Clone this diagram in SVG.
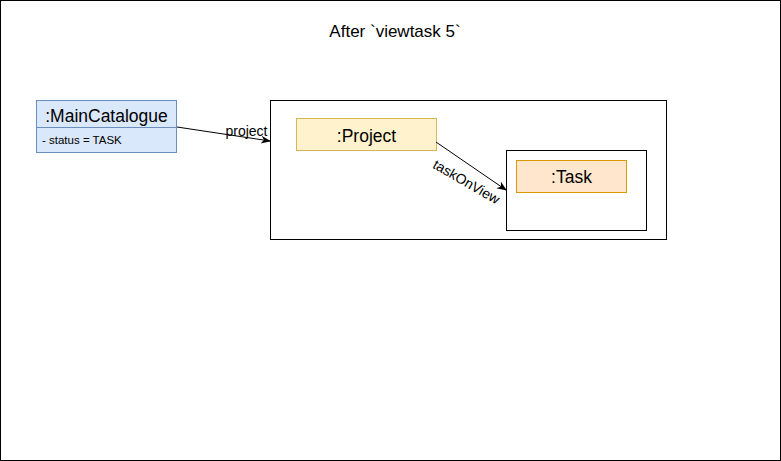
<svg xmlns="http://www.w3.org/2000/svg" width="781" height="461" viewBox="0 0 781 461">
<defs>
<style>
text{font-family:Helvetica,"Liberation Sans",Arial,sans-serif;fill:#000}
.frame{fill:#fff;stroke:#000;stroke-width:1}
.blue{fill:#dae8fc;stroke:#6c8ebf;stroke-width:1}
.yellow{fill:#fff2cc;stroke:#d6b656;stroke-width:1}
.orange{fill:#ffe6cc;stroke:#d79b00;stroke-width:1}
.edge{fill:none;stroke:#000;stroke-width:1}
.lbl{font-size:14px;text-anchor:middle}
.big{font-size:17.5px;text-anchor:middle}
</style>
<marker id="arr" viewBox="0 0 10 10" refX="9" refY="5" markerWidth="10" markerHeight="10" markerUnits="userSpaceOnUse" orient="auto">
<path d="M0,1 L10,5 L0,9 L3,5 Z" fill="#000"/>
</marker>
</defs>
<rect x="0.5" y="0.5" width="780" height="460" fill="#fff" stroke="#000"/>
<g id="title"><text x="395" y="37" font-size="17" text-anchor="middle">After `viewtask 5`</text></g>
<g id="mainCatalogue">
<rect class="blue" x="36.5" y="100.5" width="140" height="52"/>
<line x1="36.5" y1="127.5" x2="176.5" y2="127.5" stroke="#6c8ebf"/>
<text class="big" x="106.5" y="121.5">:MainCatalogue</text>
<text x="42" y="144" font-size="11.5">- status = TASK</text>
</g>
<g id="projectFrame"><rect class="frame" x="270.5" y="100.5" width="396" height="139"/></g>
<g id="project">
<rect class="yellow" x="296.5" y="118.5" width="140" height="32"/>
<text class="big" x="366.5" y="141.5">:Project</text>
</g>
<g id="taskFrame"><rect class="frame" x="506.5" y="150.5" width="140" height="80"/></g>
<g id="task">
<rect class="orange" x="516.5" y="160.5" width="110" height="32"/>
<text class="big" x="571.5" y="183">:Task</text>
</g>
<g id="connectors">
<line class="edge" x1="177" y1="127" x2="270" y2="141" marker-end="url(#arr)"/>
<text class="lbl" x="246.5" y="136">project</text>
<line class="edge" x1="436" y1="142" x2="506" y2="190" marker-end="url(#arr)"/>
<text class="lbl" x="0" y="0" transform="translate(464,186) rotate(30)">taskOnView</text>
</g>
</svg>
